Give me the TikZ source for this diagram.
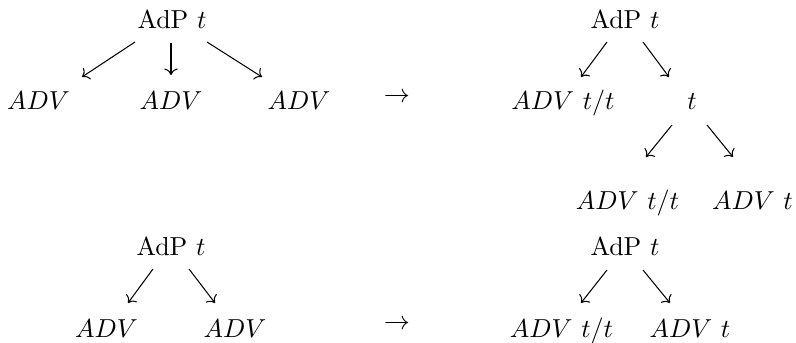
\documentclass[tikz,border=0pt]{standalone}
\usetikzlibrary{arrows.meta}
\begin{document}
\begin{tikzpicture}[x=0.3846pt,y=-0.3846pt,
  lbl/.style={anchor=base,inner sep=0pt,outer sep=0pt},
  arr/.style={line width=0.4pt,-{Computer Modern Rightarrow}}]
\useasboundingbox (0,0) rectangle (796,343);
% top-left tree
\node[lbl] (r1) at (172,29) {AdP $t$};
\node[lbl] (l1) at (38.5,110) {$ADV$};
\node[lbl] (l2) at (171,110) {$ADV$};
\node[lbl] (l3) at (299,110) {$ADV$};
\draw[arr] ([shift={(-37,13)}]r1.base) -- ([shift={(43.5,-33)}]l1.base);
\draw[arr] ([shift={(-1,14)}]r1.base) -- ([shift={(0,-35)}]l2.base);
\draw[arr] ([shift={(35,13)}]r1.base) -- ([shift={(-37,-33)}]l3.base);
% rewrite arrows
\node[lbl] (to1) at (397,102.5) {$\rightarrow$};
\node[lbl] (to2) at (397,329.5) {$\rightarrow$};
% top-right tree
\node[lbl] (R1) at (625,29) {AdP $t$};
\node[lbl] (R2) at (563,110) {$ADV$ $t/t$};
\node[lbl] (R3) at (692,110) {$t$};
\node[lbl] (R4) at (627.5,210) {$ADV$ $t/t$};
\node[lbl] (R5) at (752.5,210) {$ADV$ $t$};
\draw[arr] ([shift={(-18,13)}]R1.base) -- ([shift={(18,-33)}]R2.base);
\draw[arr] ([shift={(18,13)}]R1.base) -- ([shift={(-23,-33)}]R3.base);
\draw[arr] ([shift={(-20,15)}]R3.base) -- ([shift={(18.5,-53)}]R4.base);
\draw[arr] ([shift={(15,15)}]R3.base) -- ([shift={(-19.5,-53)}]R5.base);
% bottom-left tree
\node[lbl] (B1) at (171,256) {AdP $t$};
\node[lbl] (B2) at (106.5,338) {$ADV$};
\node[lbl] (B3) at (235,338) {$ADV$};
\draw[arr] ([shift={(-18,13)}]B1.base) -- ([shift={(21.5,-35)}]B2.base);
\draw[arr] ([shift={(18,13)}]B1.base) -- ([shift={(-20,-35)}]B3.base);
% bottom-right tree
\node[lbl] (C1) at (625,256) {AdP $t$};
\node[lbl] (C2) at (561.5,338) {$ADV$ $t/t$};
\node[lbl] (C3) at (690,338) {$ADV$ $t$};
\draw[arr] ([shift={(-18,14)}]C1.base) -- ([shift={(19.5,-35)}]C2.base);
\draw[arr] ([shift={(18,14)}]C1.base) -- ([shift={(-20,-35)}]C3.base);
\end{tikzpicture}
\end{document}
